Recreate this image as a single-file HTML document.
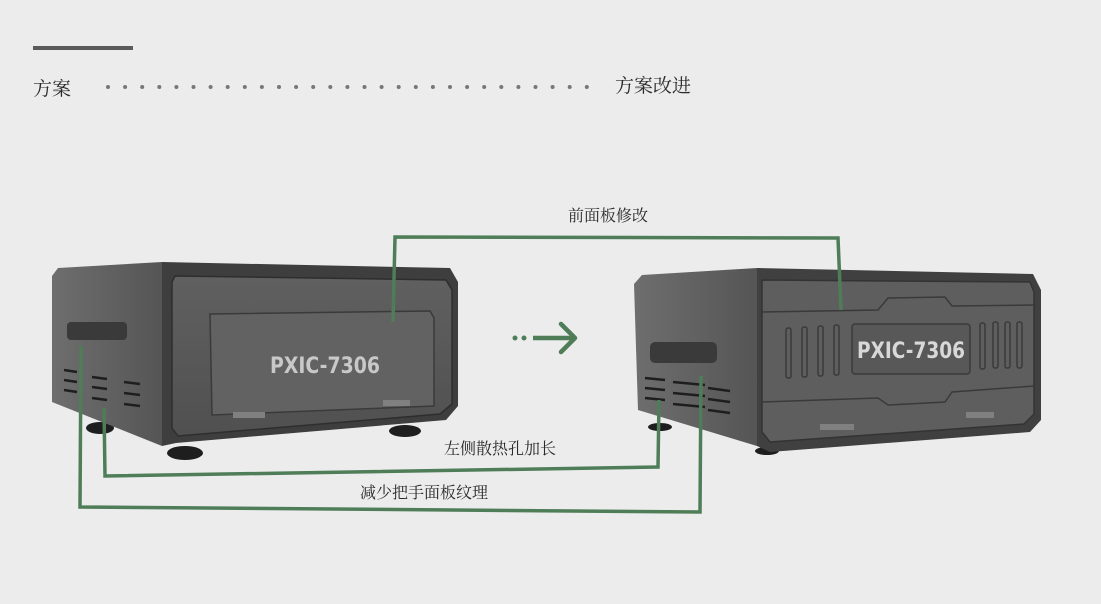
<!DOCTYPE html>
<html><head><meta charset="utf-8"><style>
html,body{margin:0;padding:0;background:#ececec;}
svg{display:block}
text{font-family:"Liberation Serif","Noto Serif CJK SC",serif;fill:#2a2a2a}
</style></head><body>
<svg width="1101" height="604" viewBox="0 0 1101 604" xmlns="http://www.w3.org/2000/svg">
<defs>
<linearGradient id="side" x1="0" y1="0" x2="1" y2="0"><stop offset="0" stop-color="#6e6e6e"/><stop offset="1" stop-color="#555"/></linearGradient>
<linearGradient id="front" x1="0" y1="0" x2="0" y2="1"><stop offset="0" stop-color="#606060"/><stop offset="1" stop-color="#505050"/></linearGradient>
</defs>
<rect x="33" y="46" width="100" height="4" fill="#5a5a5a"/>
<text x="33" y="95" font-size="19">方案</text>
<g fill="#777">
<circle cx="108" cy="87" r="2"/><circle cx="125.1" cy="87" r="2"/><circle cx="142.2" cy="87" r="2"/><circle cx="159.3" cy="87" r="2"/><circle cx="176.4" cy="87" r="2"/><circle cx="193.5" cy="87" r="2"/><circle cx="210.6" cy="87" r="2"/><circle cx="227.7" cy="87" r="2"/><circle cx="244.8" cy="87" r="2"/><circle cx="261.9" cy="87" r="2"/><circle cx="279" cy="87" r="2"/><circle cx="296.1" cy="87" r="2"/><circle cx="313.2" cy="87" r="2"/><circle cx="330.3" cy="87" r="2"/><circle cx="347.4" cy="87" r="2"/><circle cx="364.5" cy="87" r="2"/><circle cx="381.6" cy="87" r="2"/><circle cx="398.7" cy="87" r="2"/><circle cx="415.8" cy="87" r="2"/><circle cx="432.9" cy="87" r="2"/><circle cx="450" cy="87" r="2"/><circle cx="467.1" cy="87" r="2"/><circle cx="484.2" cy="87" r="2"/><circle cx="501.3" cy="87" r="2"/><circle cx="518.4" cy="87" r="2"/><circle cx="535.5" cy="87" r="2"/><circle cx="552.6" cy="87" r="2"/><circle cx="569.7" cy="87" r="2"/><circle cx="586.8" cy="87" r="2"/>
</g>
<text x="615" y="92" font-size="19">方案改进</text>

<!-- left device -->
<g>
<ellipse cx="100" cy="428" rx="14" ry="6" fill="#1e1e1e"/>
<ellipse cx="185" cy="453" rx="18" ry="7" fill="#1e1e1e"/>
<ellipse cx="405" cy="431" rx="16" ry="6" fill="#1e1e1e"/>
<polygon points="52,276 58,268 162,262 162,446 52,402" fill="url(#side)"/>
<polygon points="162,262 450,268 458,282 458,406 446,420 176,443 162,446" fill="#3e3e3e"/>
<polygon points="175,276 446,280 452,290 452,404 440,414 178,436 172,428 172,282" fill="url(#front)" stroke="#2e2e2e" stroke-width="1.5"/>
<polygon points="210,314 430,311 434,318 434,406 212,415" fill="#626262" stroke="#3a3a3a" stroke-width="1.5"/>
<rect x="233" y="412" width="32" height="6" fill="#808080"/><rect x="383" y="400" width="27" height="6" fill="#808080"/>
<text x="270" y="373" font-size="22" font-weight="bold" textLength="110" lengthAdjust="spacingAndGlyphs" style="fill:#c8c8c8;font-family:'DejaVu Sans',sans-serif">PXIC-7306</text>
<rect x="67" y="322" width="60" height="18" rx="4" fill="#3a3a3a"/>
<g stroke="#1e1e1e" stroke-width="2.5">
<line x1="64" y1="370" x2="77" y2="372"/><line x1="64" y1="380" x2="77" y2="382"/><line x1="64" y1="390" x2="77" y2="392"/>
<line x1="92" y1="377" x2="107" y2="379"/><line x1="92" y1="387" x2="107" y2="389"/><line x1="92" y1="398" x2="107" y2="400"/>
<line x1="124" y1="382" x2="140" y2="384"/><line x1="124" y1="393" x2="140" y2="395"/><line x1="124" y1="404" x2="140" y2="406"/>
</g>
</g>

<!-- right device -->
<g>
<ellipse cx="660" cy="427" rx="12" ry="4" fill="#1e1e1e"/>
<ellipse cx="767" cy="451" rx="12" ry="4" fill="#1e1e1e"/>
<ellipse cx="1000" cy="429" rx="10" ry="4" fill="#1e1e1e"/>
<polygon points="634,284 642,275 757,268 757,446 638,410" fill="url(#side)"/>
<polygon points="757,268 1033,274 1041,290 1041,420 1030,432 770,452 757,446" fill="#404040"/>
<polygon points="762,280 1030,282 1034,292 1034,414 1024,424 770,442 762,432" fill="#5e5e5e" stroke="#333" stroke-width="1.5"/>
<polyline points="762,312 878,310 888,298 945,297 952,306 1034,305" fill="none" stroke="#3a3a3a" stroke-width="1.5"/>
<polyline points="762,402 878,398 888,405 945,402 952,392 1034,386" fill="none" stroke="#3a3a3a" stroke-width="1.5"/>
<rect x="852" y="324" width="118" height="50" rx="3" fill="#585858" stroke="#3a3a3a" stroke-width="1.5"/>
<g fill="none" stroke="#3a3a3a" stroke-width="1.5">
<rect x="786" y="328" width="5" height="50" rx="2"/><rect x="802" y="327" width="5" height="50" rx="2"/><rect x="818" y="326" width="5" height="50" rx="2"/><rect x="834" y="325" width="5" height="50" rx="2"/>
<rect x="980" y="323" width="5" height="46" rx="2"/><rect x="993" y="322" width="5" height="46" rx="2"/><rect x="1005" y="322" width="5" height="46" rx="2"/><rect x="1017" y="322" width="5" height="46" rx="2"/>
</g>
<rect x="820" y="424" width="34" height="6" fill="#808080"/><rect x="966" y="412" width="28" height="6" fill="#808080"/>
<text x="857" y="358" font-size="22" font-weight="bold" textLength="108" lengthAdjust="spacingAndGlyphs" style="fill:#d8d8d8;font-family:'DejaVu Sans',sans-serif">PXIC-7306</text>
<rect x="650" y="342" width="67" height="21" rx="5" fill="#3a3a3a"/>
<g stroke="#1e1e1e" stroke-width="2.5">
<line x1="645" y1="378" x2="665" y2="380"/><line x1="645" y1="388" x2="665" y2="390"/><line x1="645" y1="398" x2="665" y2="400"/>
<line x1="673" y1="382" x2="705" y2="385"/><line x1="673" y1="393" x2="705" y2="396"/><line x1="673" y1="404" x2="705" y2="407"/>
<line x1="708" y1="388" x2="730" y2="391"/><line x1="708" y1="399" x2="730" y2="402"/><line x1="708" y1="410" x2="730" y2="413"/>
</g>
</g>

<!-- arrow -->
<g fill="#4e7d57" stroke="#4e7d57">
<circle cx="515" cy="338" r="2.5" stroke="none"/><circle cx="524" cy="338" r="2.5" stroke="none"/>
<line x1="533" y1="338" x2="574" y2="338" stroke-width="4.5"/>
<polyline points="561,324 575,338 561,352" fill="none" stroke-width="4.5" stroke-linejoin="round" stroke-linecap="round"/>
</g>

<!-- connectors -->
<g fill="none" stroke="#4e7d57" stroke-width="3.5">
<polyline points="393,322 395,237 838,238 841,310"/>
<polyline points="104,408 105,476 658,467 659,400"/>
<polyline points="81,346 80,507 700,512 701,376"/>
</g>
<text x="568" y="221" font-size="16">前面板修改</text>
<text x="444" y="454" font-size="16">左侧散热孔加长</text>
<text x="360" y="498" font-size="16">减少把手面板纹理</text>
</svg>
</body></html>
